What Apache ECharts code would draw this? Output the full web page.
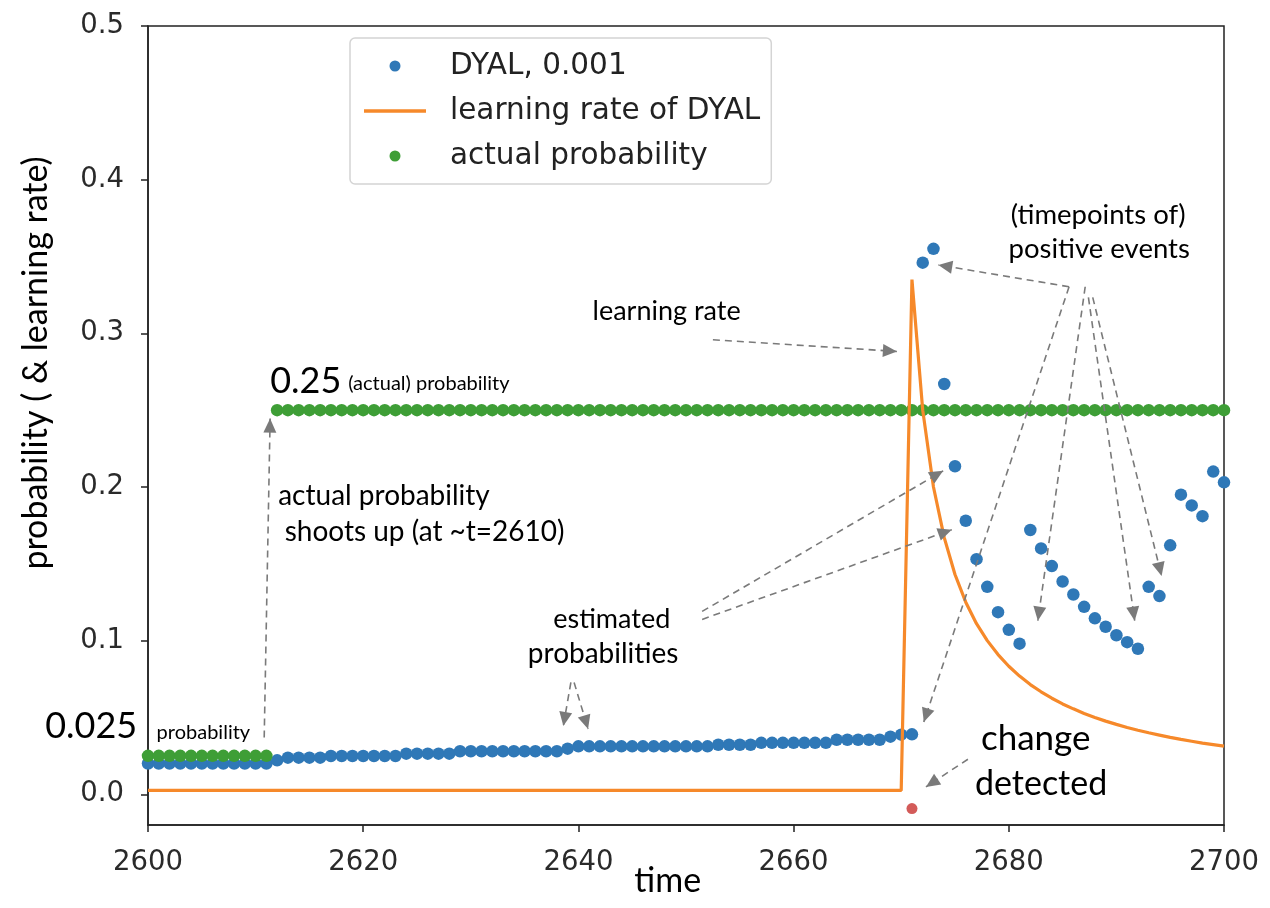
<!DOCTYPE html>
<html>
<head>
<meta charset="utf-8">
<script src="https://cdn.jsdelivr.net/npm/echarts@6/dist/echarts.min.js"></script>
<style>
  html, body {margin: 0; background: #fff;}
  #chart {width: 1270px; height: 908px;}
</style>
</head>
<body>
<div id="chart"></div>
<script>
// estimated probability (DYAL, 0.001), one value per time step from blueStart
const blueStart = 2600;
const blueValues = [
  0.020, 0.020, 0.020, 0.020, 0.020, 0.020, 0.020, 0.020, 0.020, 0.020,
  0.020, 0.020, 0.0221, 0.0238, 0.0238, 0.0238, 0.0238, 0.0249, 0.0249, 0.0249,
  0.0249, 0.0249, 0.0249, 0.0249, 0.0264, 0.0264, 0.0264, 0.0264, 0.0264, 0.0280,
  0.0280, 0.0280, 0.0280, 0.0280, 0.0280, 0.0280, 0.0280, 0.0280, 0.0280, 0.0297,
  0.0312, 0.0312, 0.0312, 0.0312, 0.0312, 0.0312, 0.0312, 0.0312, 0.0312, 0.0312,
  0.0312, 0.0312, 0.0312, 0.0322, 0.0322, 0.0322, 0.0322, 0.0335, 0.0335, 0.0335,
  0.0335, 0.0335, 0.0335, 0.0335, 0.0355, 0.0355, 0.0355, 0.0355, 0.0355, 0.0375,
  0.0388, 0.0390, 0.346, 0.355, 0.267, 0.2135, 0.178, 0.153, 0.135, 0.1185,
  0.107, 0.098, 0.172, 0.160, 0.1485, 0.1385, 0.130, 0.122, 0.1145, 0.109,
  0.1035, 0.099, 0.0947, 0.135, 0.129, 0.162, 0.195, 0.188, 0.181, 0.210,
  0.203
];

// actual probability, one value per time step from greenStart
const greenStart = 2600;
const greenValues = [
  0.025, 0.025, 0.025, 0.025, 0.025, 0.025, 0.025, 0.025, 0.025, 0.025,
  0.025, 0.025, 0.25, 0.25, 0.25, 0.25, 0.25, 0.25, 0.25, 0.25,
  0.25, 0.25, 0.25, 0.25, 0.25, 0.25, 0.25, 0.25, 0.25, 0.25,
  0.25, 0.25, 0.25, 0.25, 0.25, 0.25, 0.25, 0.25, 0.25, 0.25,
  0.25, 0.25, 0.25, 0.25, 0.25, 0.25, 0.25, 0.25, 0.25, 0.25,
  0.25, 0.25, 0.25, 0.25, 0.25, 0.25, 0.25, 0.25, 0.25, 0.25,
  0.25, 0.25, 0.25, 0.25, 0.25, 0.25, 0.25, 0.25, 0.25, 0.25,
  0.25, 0.25, 0.25, 0.25, 0.25, 0.25, 0.25, 0.25, 0.25, 0.25,
  0.25, 0.25, 0.25, 0.25, 0.25, 0.25, 0.25, 0.25, 0.25, 0.25,
  0.25, 0.25, 0.25, 0.25, 0.25, 0.25, 0.25, 0.25, 0.25, 0.25,
  0.25
];

// learning rate: flat from lrFlatStart, then one value per step from lrStart
const lrFlatStart = 2600;
const lrStart = 2670;
const lrValues = [
  0.0025, 0.335, 0.250, 0.200, 0.167, 0.143, 0.125, 0.111, 0.100, 0.0909,
  0.0833, 0.0769, 0.0714, 0.0667, 0.0625, 0.0588, 0.0556, 0.0526, 0.0500, 0.0476,
  0.0455, 0.0435, 0.0417, 0.0400, 0.0385, 0.0370, 0.0357, 0.0345, 0.0333, 0.0323,
  0.0313
];

// detected change point
const changeTimes = [2671];
const changeValues = [-0.0093];

const yTicks = [0, 0.1, 0.2, 0.3, 0.4, 0.5];

// dashed annotation arrows [t0, v0, t1, v1] in data space, head at the second point
const arrows = [
  [2652.5, 0.2958, 2669.6, 0.2882],
  [2610.8, 0.037, 2611.35, 0.2445],
  [2651.5, 0.119, 2673.9, 0.2105],
  [2651.5, 0.1138, 2674.7, 0.1722],
  [2639.3, 0.0728, 2638.6, 0.0445],
  [2639.6, 0.0728, 2640.9, 0.0425],
  [2685.6, 0.3303, 2673.45, 0.3445],
  [2685.6, 0.3303, 2672.1, 0.0470],
  [2687.1, 0.3303, 2682.7, 0.1130],
  [2687.4, 0.3234, 2691.7, 0.1130],
  [2687.8, 0.3234, 2694.2, 0.1420],
  [2676.2, 0.0228, 2672.3, 0.0048]
];

// hand-written notes, placed in data space
const notes = [
  {text: "learning rate", t: 2648.2, v: 0.314, size: 27},
  {text: "0.25", t: 2611.35, v: 0.269, size: 36, align: "left"},
  {text: "(actual) probability", t: 2618.6, v: 0.267, size: 20, align: "left"},
  {text: "actual probability", t: 2612.1, v: 0.194, size: 28, align: "left"},
  {text: "shoots up (at ~t=2610)", t: 2612.7, v: 0.171, size: 28, align: "left"},
  {text: "estimated", t: 2643.1, v: 0.114, size: 27},
  {text: "probabilities", t: 2642.3, v: 0.091, size: 28},
  {text: "(timepoints of)", t: 2688.3, v: 0.377, size: 27.5},
  {text: "positive events", t: 2688.4, v: 0.355, size: 27.5},
  {text: "change", t: 2682.5, v: 0.036, size: 35},
  {text: "detected", t: 2683.0, v: 0.0065, size: 34},
  {text: "probability", t: 2600.8, v: 0.040, size: 20, align: "left"},
  {text: "0.025", t: 2599.0, v: 0.044, size: 36, align: "right"},
  {text: "time", t: 2648.3, v: -0.0566, size: 34},
  {text: "probability ( & learning rate)", t: 2589.6, v: 0.2807, size: 34, rotate: true}
];

const blueData = blueValues.map((v, i) => [blueStart + i, v]);
const greenData = greenValues.map((v, i) => [greenStart + i, v]);
const lrData = [[lrFlatStart, lrValues[0]]].concat(lrValues.map((v, i) => [lrStart + i, v]));
const changeData = changeTimes.map((t, i) => [t, changeValues[i]]);

const axisColor = "#222";
const arrowColor = "#7a7a7a";
const tickFont = {fontFamily: "DejaVu Sans", fontSize: 27.5, color: "#2a2a2a"};

const chart = echarts.init(document.getElementById("chart"));
chart.setOption({
  animation: false,
  backgroundColor: "#fff",
  grid: {
    left: 148, right: 46, top: 26, bottom: 83,
    show: true, borderColor: axisColor, borderWidth: 1.5,
  },
  legend: {
    data: [
      {name: "DYAL, 0.001"},
      {name: "learning rate of DYAL", icon: "path://M0,0H62V3.5H0Z"},
      {name: "actual probability"},
    ],
    orient: "vertical",
    left: 350,
    top: 38,
    padding: [13, 11, 13, 14],
    itemWidth: 62,
    itemHeight: 11,
    itemGap: 15,
    borderColor: "#d4d4d4",
    borderWidth: 1.5,
    borderRadius: 5,
    backgroundColor: "#fff",
    textStyle: {fontFamily: "DejaVu Sans", fontSize: 29.5, color: "#222", lineHeight: 30, padding: [0, 0, 0, 19]},
  },
  xAxis: {
    type: "value",
    min: 2600,
    max: 2700,
    interval: 20,
    axisLine: {onZero: false, lineStyle: {color: axisColor, width: 1.5}},
    axisTick: {length: 7, lineStyle: {color: axisColor, width: 1.5}},
    axisLabel: Object.assign({margin: 24, formatter: v => String(v)}, tickFont),
    splitLine: {show: false},
  },
  yAxis: {
    type: "value",
    min: -0.02,
    max: 0.5,
    axisLine: {show: true, lineStyle: {color: axisColor, width: 1.5}},
    axisTick: {show: true, length: 7, customValues: yTicks, lineStyle: {color: axisColor, width: 1.5}},
    axisLabel: Object.assign({margin: 24, customValues: yTicks, formatter: v => v.toFixed(1)}, tickFont),
    splitLine: {show: false},
  },
  series: [
    {
      name: "DYAL, 0.001",
      type: "scatter",
      data: blueData,
      symbolSize: 12.5,
      itemStyle: {color: "#2f78b7", opacity: 1},
      z: 2,
    },
    {
      name: "actual probability",
      type: "scatter",
      data: greenData,
      symbolSize: 12.5,
      itemStyle: {color: "#3e9e36", opacity: 1},
      z: 3,
    },
    {
      name: "learning rate of DYAL",
      type: "line",
      data: lrData,
      symbol: "none",
      lineStyle: {color: "#f6892a", width: 3.2},
      itemStyle: {color: "#f6892a"},
      z: 4,
    },
    {
      name: "change",
      type: "scatter",
      data: changeData,
      symbolSize: 11,
      itemStyle: {color: "#c8322f"},
      z: 5,
      markLine: {
        silent: true,
        animation: false,
        symbol: "none",
        label: {show: false},
        lineStyle: {color: arrowColor, type: [7, 5], width: 1.6},
        data: arrows.map(a => [{coord: [a[0], a[1]]}, {coord: [a[2], a[3]]}]),
      },
    },
  ],
});

// text notes and arrow heads, positioned through the chart's own scales
const toPx = (t, v) => chart.convertToPixel({gridIndex: 0}, [t, v]);
const noteGraphics = notes.map(n => {
  const p = toPx(n.t, n.v);
  return {
    type: "text",
    x: p[0],
    y: p[1],
    rotation: n.rotate ? Math.PI / 2 : 0,
    z: 100,
    style: {
      text: n.text,
      font: n.size + "px Lato",
      fill: "#000",
      align: n.align || "center",
      verticalAlign: "middle",
    },
  };
});
const headGraphics = arrows.map(a => {
  const p0 = toPx(a[0], a[1]);
  const p1 = toPx(a[2], a[3]);
  const dx = p1[0] - p0[0], dy = p1[1] - p0[1];
  const len = Math.hypot(dx, dy);
  const ux = dx / len, uy = dy / len;
  const hl = 14, hw = 6.5;
  const bx = p1[0] - ux * hl, by = p1[1] - uy * hl;
  return {
    type: "polygon",
    z: 99,
    shape: {points: [p1, [bx - uy * hw, by + ux * hw], [bx + uy * hw, by - ux * hw]]},
    style: {fill: arrowColor},
  };
});
chart.setOption({graphic: noteGraphics.concat(headGraphics)});
</script>
</body>
</html>
